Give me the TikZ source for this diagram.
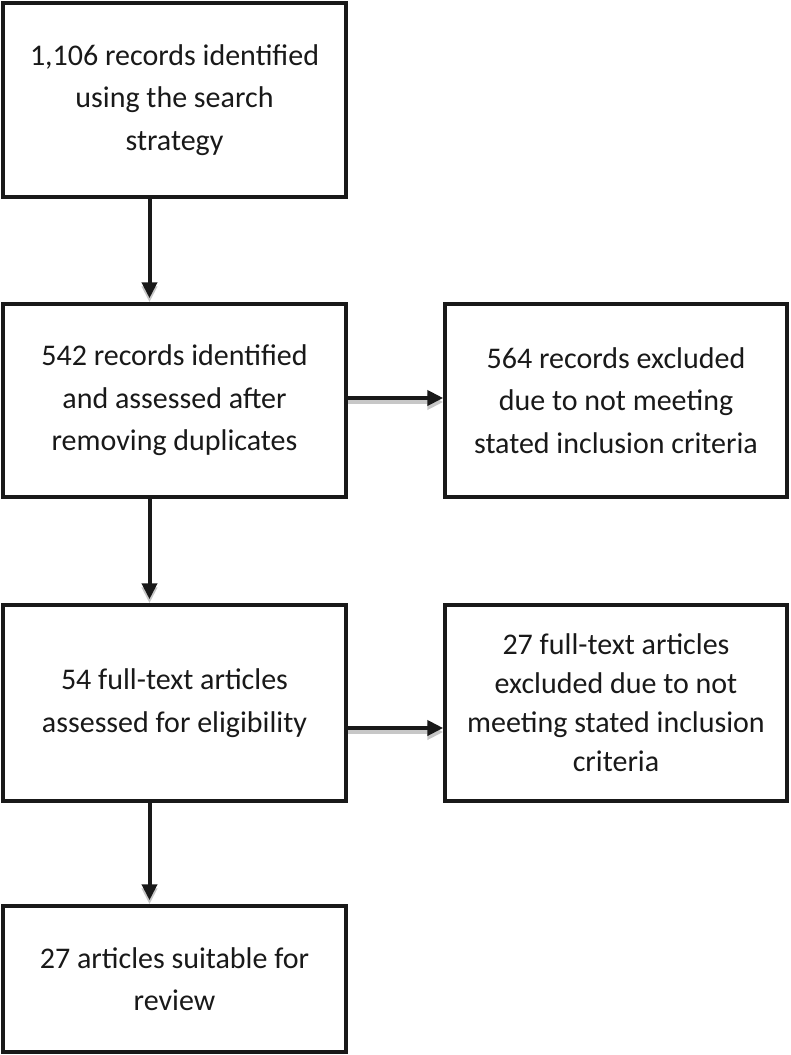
\documentclass[tikz,border=0pt]{standalone}
\usepackage{fontspec}
\setmainfont{Carlito}
\usetikzlibrary{arrows.meta}
\tikzset{
  box/.style={draw=black!90, line width=3.5pt, rectangle, align=center, inner sep=0pt,
    fill=white, font=\fontsize{30}{42.5}\selectfont, text=black!90},
  conn/.style={line width=4pt, draw=black!90, -{Triangle[length=16pt,width=15pt]}},
  connshadow/.style={line width=4pt, draw=black!22, -{Triangle[length=16pt,width=15pt,fill=black!22]}},
}
\begin{document}
\begin{tikzpicture}[x=1pt,y=-1pt]
\useasboundingbox (0,0) rectangle (791,1055);
\node[box, minimum width=343pt, minimum height=194pt] (b1) at (174.5,100) {1,106 records identified\\using the search\\strategy};
\node[box, minimum width=343pt, minimum height=193pt] (b2) at (174.5,400.5) {542 records identified\\and assessed after\\removing duplicates};
\node[box, minimum width=342pt, minimum height=193pt] (b3) at (616,400.5) {564 records excluded\\due to not meeting\\stated inclusion criteria};
\node[box, minimum width=343pt, minimum height=196pt] (b4) at (174.5,703) {54 full-text articles\\assessed for eligibility};
\node[box, minimum width=342pt, minimum height=196pt, font=\fontsize{30}{39}\selectfont] (b5) at (616,703) {27 full-text articles\\excluded due to not\\meeting stated inclusion\\criteria};
\node[box, minimum width=343pt, minimum height=146pt] (b6) at (174.5,979) {27 articles suitable for\\review};
\coordinate (ax) at (149.5,0);
\coordinate (h1) at (0,398);
\coordinate (h2) at (0,728);
% shadows
\begin{scope}[transform canvas={yshift=-4pt}]
\draw[connshadow, shorten >=4pt] (b1.south -| ax) -- (b2.north -| ax);
\draw[connshadow, shorten >=4pt] (b2.south -| ax) -- (b4.north -| ax);
\draw[connshadow, shorten >=4pt] (b4.south -| ax) -- (b6.north -| ax);
\draw[connshadow] (b2.east |- h1) -- (b3.west |- h1);
\draw[connshadow] (b4.east |- h2) -- (b5.west |- h2);
\end{scope}
% arrows
\draw[conn, shorten >=4pt] (b1.south -| ax) -- (b2.north -| ax);
\draw[conn, shorten >=4pt] (b2.south -| ax) -- (b4.north -| ax);
\draw[conn, shorten >=4pt] (b4.south -| ax) -- (b6.north -| ax);
\draw[conn] (b2.east |- h1) -- (b3.west |- h1);
\draw[conn] (b4.east |- h2) -- (b5.west |- h2);
\end{tikzpicture}
\end{document}
